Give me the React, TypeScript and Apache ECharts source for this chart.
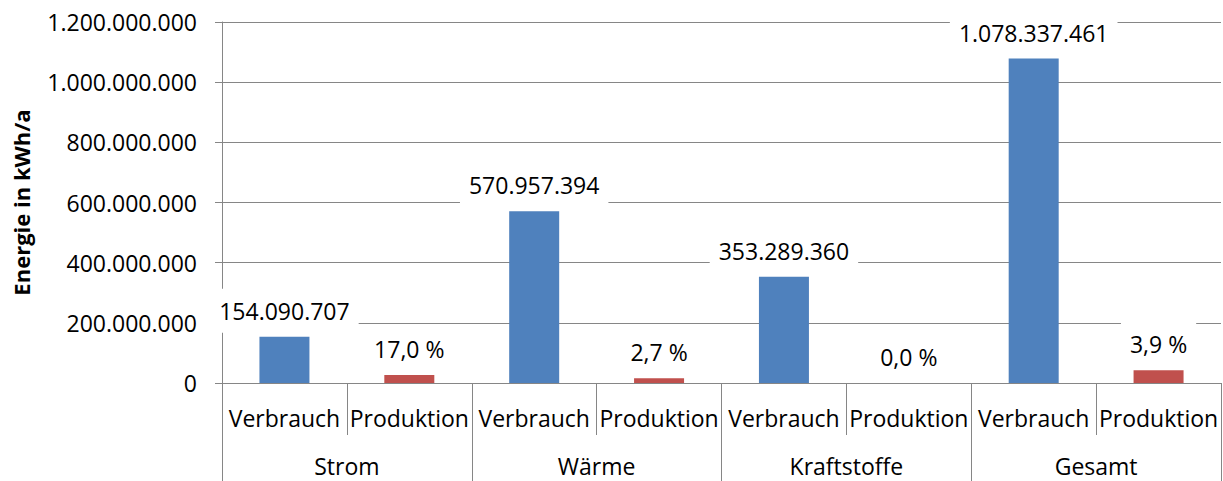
import React, { useEffect, useRef } from "react";
import * as echarts from "echarts";

const groups = ["Strom", "Wärme", "Kraftstoffe", "Gesamt"];
const kinds = ["Verbrauch", "Produktion"];
const verbrauch = [154090707, 570957394, 353289360, 1078337461];
const produktion = [26195420, 15415850, 0, 42055161];
const produktionAnteil = ["17,0 %", "2,7 %", "0,0 %", "3,9 %"];
const yMin = 0;
const yMax = 1200000000;
const yInterval = 200000000;

const FONT = "'Open Sans', sans-serif";
const GRAY = "#868686";

const fmt = (v: number) => String(Math.round(v)).replace(/\B(?=(\d{3})+(?!\d))/g, ".");

export default function App() {
  const ref = useRef<HTMLDivElement>(null);
  useEffect(() => {
    if (!ref.current) return;
    const chart = echarts.init(ref.current, undefined, { renderer: "svg" });
    const cats: string[] = [];
    const vData: (number | null)[] = [];
    const pData: (number | null)[] = [];
    groups.forEach((g, i) => {
      kinds.forEach((k) => cats.push(k));
      vData.push(verbrauch[i], null);
      pData.push(null, produktion[i]);
    });
    const labelBase = {
      show: true,
      position: "top" as const,
      distance: 4,
      color: "#000",
      fontFamily: FONT,
      fontSize: 23,
      lineHeight: 30,
      backgroundColor: "#fff",
      padding: [7, 9, 7, 9],
    };
    chart.setOption({
      animation: false,
      textStyle: { fontFamily: FONT },
      grid: { left: 222, right: 2, top: 22, height: 361 },
      xAxis: [
        {
          type: "category",
          data: cats,
          position: "bottom",
          axisLine: { show: true, lineStyle: { color: GRAY, width: 1 } },
          axisTick: { show: true, length: 52, interval: 0, lineStyle: { color: GRAY } },
          axisLabel: { interval: 0, margin: 23, color: "#000", fontFamily: FONT, fontSize: 23 },
        },
        {
          type: "category",
          data: groups,
          position: "bottom",
          axisLine: { show: false },
          axisTick: { show: true, length: 100, interval: 0, lineStyle: { color: GRAY } },
          axisLabel: {
            interval: 0,
            margin: 73,
            color: "#000",
            fontFamily: FONT,
            fontSize: 23,
            lineHeight: 20,
          },
        },
      ],
      yAxis: {
        type: "value",
        min: yMin,
        max: yMax,
        interval: yInterval,
        name: "Energie in kWh/a",
        nameLocation: "middle",
        nameRotate: 90,
        nameGap: 190,
        nameTextStyle: { color: "#000", fontFamily: FONT, fontSize: 22, fontWeight: "bold" },
        axisLine: { show: true, lineStyle: { color: GRAY } },
        axisTick: { show: true, length: 7, lineStyle: { color: GRAY } },
        splitLine: { show: true, lineStyle: { color: GRAY } },
        axisLabel: {
          margin: 25,
          color: "#000",
          fontFamily: FONT,
          fontSize: 23,
          formatter: (v: number) => fmt(v),
        },
      },
      series: [
        {
          name: "Verbrauch",
          type: "bar",
          data: vData,
          barWidth: 50,
          barGap: "-100%",
          itemStyle: { color: "#4F81BD" },
          label: { ...labelBase, formatter: (p: any) => fmt(p.value) },
        },
        {
          name: "Produktion",
          type: "bar",
          data: pData,
          barWidth: 50,
          barGap: "-100%",
          itemStyle: { color: "#C0504D" },
          label: {
            ...labelBase,
            formatter: (p: any) => produktionAnteil[Math.floor(p.dataIndex / 2)],
          },
        },
      ],
    });
    return () => chart.dispose();
  }, []);
  return (
    <div
      ref={ref}
      style={{ position: "fixed", left: 0, top: 0, width: 1223, height: 481, background: "#fff" }}
    />
  );
}
